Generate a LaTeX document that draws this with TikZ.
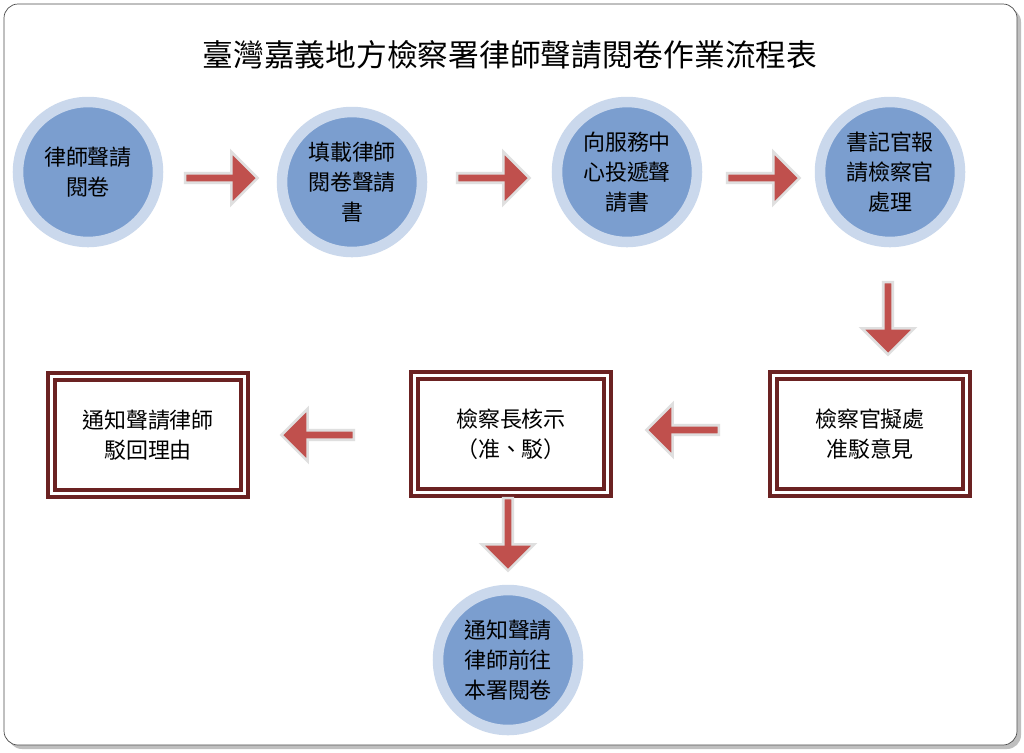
\documentclass[tikz,border=0pt]{standalone}
\usepackage{fontspec}
\newfontfamily\cjk{Noto Sans CJK TC}
\usetikzlibrary{shapes.arrows}
\definecolor{stepblue}{HTML}{7B9ECF}
\definecolor{ringblue}{HTML}{CAD8EC}
\definecolor{arrowred}{HTML}{C0504D}
\definecolor{boxred}{HTML}{6B2222}

\begin{document}
\begin{tikzpicture}[x=0.02cm,y=-0.02cm,
	stepcircle/.style={circle,fill=stepblue,draw=ringblue,line width=6pt,minimum size=2.8cm,inner sep=0pt,align=center,font=\cjk\fontsize{12.5}{17}\selectfont},
	stepbox/.style={draw=boxred,line width=2.4pt,double=white,double distance=1.6pt,minimum width=3.85cm,minimum height=2.35cm,align=center,font=\cjk\fontsize{12.5}{17}\selectfont},
	flow/.style={single arrow,fill=arrowred,draw=gray!25,line width=1.5pt,minimum height=1.45cm,minimum width=1.05cm,single arrow head extend=0.12cm,inner sep=0pt}]
	%\draw[help lines] (0,0) grid (1024,752);
	\useasboundingbox (0,0) rectangle (1024,752);
	
	\fill[gray!50,rounded corners=8pt] (8,8) rectangle (1021,749);
	\draw[black!70,fill=white,rounded corners=8pt] (4,4) rectangle (1017,745);
	
	\node[font=\cjk\fontsize{17.5}{20}\selectfont] (title) at (510,55) {臺灣嘉義地方檢察署律師聲請閱卷作業流程表};
	
	% first row
	\node[stepcircle] (apply) at (88,172) {律師聲請\\閱卷};
	\node[stepcircle] (form) at (352,182) {填載律師\\閱卷聲請\\書};
	\node[stepcircle] (deliver) at (627,172) {向服務中\\心投遞聲\\請書};
	\node[stepcircle] (clerk) at (890,172) {書記官報\\請檢察官\\處理};
	
	% second row
	\node[stepbox] (opinion) at (870,434) {檢察官擬處\\准駁意見};
	\node[stepbox] (chief) at (511,434) {檢察長核示\\（准、駁）};
	\node[stepbox] (reject) at (148,435) {通知聲請律師\\駁回理由};
	
	\node[stepcircle] (notify) at (508,660) {通知聲請\\律師前往\\本署閱卷};
	
	% arrows
	\node[flow] (a1) at (219,178) {};
	\node[flow] (a2) at (491,178) {};
	\node[flow] (a3) at (761,178) {};
	\node[flow,rotate=-90] (a4) at (888,316) {};
	\node[flow,rotate=180] (a5) at (685,430) {};
	\node[flow,rotate=180] (a6) at (320,435) {};
	\node[flow,rotate=-90] (a7) at (508,532) {};
\end{tikzpicture}
\end{document}
